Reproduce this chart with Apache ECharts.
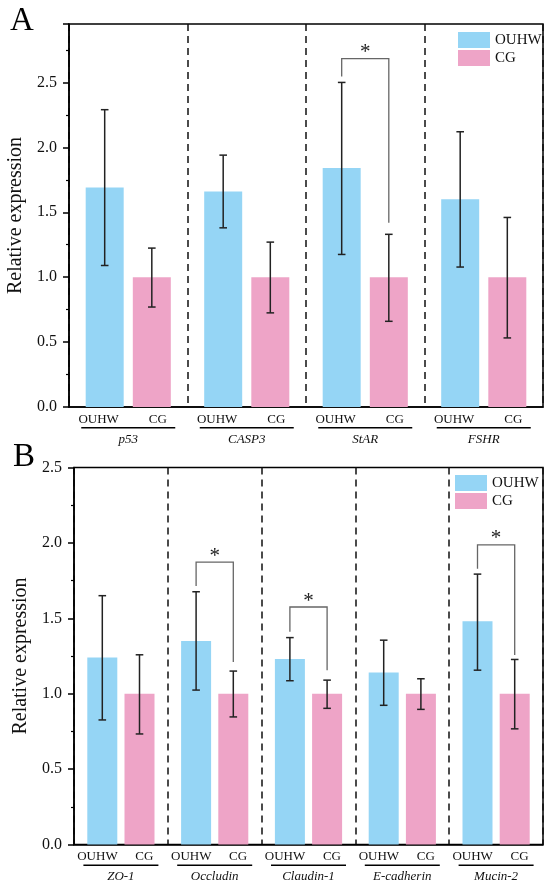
<!DOCTYPE html>
<html>
<head>
<meta charset="utf-8">
<title>Relative expression</title>
<script src="https://cdn.jsdelivr.net/npm/echarts@6/dist/echarts.min.js"></script>
<style>
  html, body { margin: 0; padding: 0; background: #fff; }
  #main { width: 550px; height: 891px; }
</style>
</head>
<body>
<div id="main"></div>
<script>
// panel A
var genesA = ['p53', 'CASP3', 'StAR', 'FSHR'];
var ouhwA = [1.69, 1.66, 1.84, 1.60];
var cgA = [1.0, 1.0, 1.0, 1.0];
var ouhwErrA = [[1.09, 2.29], [1.38, 1.94], [1.175, 2.50], [1.078, 2.12]];
var cgErrA = [[0.77, 1.224], [0.725, 1.27], [0.66, 1.33], [0.532, 1.46]];
// [gene index, left leg bottom, right leg bottom, top]
var sigA = [[2, 2.546, 1.42, 2.683]];

// panel B
var genesB = ['ZO-1', 'Occludin', 'Claudin-1', 'E-cadherin', 'Mucin-2'];
var ouhwB = [1.24, 1.35, 1.23, 1.14, 1.48];
var cgB = [1.0, 1.0, 1.0, 1.0, 1.0];
var ouhwErrB = [[0.826, 1.65], [1.024, 1.676], [1.086, 1.372], [0.923, 1.355], [1.156, 1.793]];
var cgErrB = [[0.733, 1.258], [0.846, 1.15], [0.903, 1.09], [0.896, 1.099], [0.767, 1.227]];
var sigB = [[1, 1.714, 1.211, 1.872], [2, 1.41, 1.156, 1.575], [4, 1.828, 1.256, 1.987]];

var groups = ['OUHW', 'CG'];
var yTicksA = { min: 0, max: 2.95, interval: 0.5 };
var yTicksB = { min: 0, max: 2.5, interval: 0.5 };

var FONT = "'Times New Roman', 'Liberation Serif', serif";
var BLUE = '#95d5f5';
var PINK = '#eea4c7';
var CAP = 3.8;

var chart = echarts.init(document.getElementById('main'), null, { renderer: 'canvas' });

// error bars drawn through the axis scales
function errRender(off) {
  return function (params, api) {
    var c = api.value(0);
    var lo = api.coord([c, api.value(1)]);
    var hi = api.coord([c, api.value(2)]);
    var x = lo[0] + off;
    var st = { stroke: '#222', lineWidth: 1.5 };
    return {
      type: 'group',
      children: [
        { type: 'line', shape: { x1: x, y1: lo[1], x2: x, y2: hi[1] }, style: st },
        { type: 'line', shape: { x1: x - CAP, y1: hi[1], x2: x + CAP, y2: hi[1] }, style: st },
        { type: 'line', shape: { x1: x - CAP, y1: lo[1], x2: x + CAP, y2: lo[1] }, style: st }
      ]
    };
  };
}

// significance brackets
function sigRender(off) {
  return function (params, api) {
    var c = api.value(0);
    var pl = api.coord([c, api.value(1)]);
    var pr = api.coord([c, api.value(2)]);
    var pt = api.coord([c, api.value(3)]);
    var xl = pl[0] - off, xr = pl[0] + off;
    return {
      type: 'group',
      children: [
        {
          type: 'polyline',
          shape: { points: [[xl, pl[1]], [xl, pt[1]], [xr, pt[1]], [xr, pr[1]]] },
          style: { stroke: '#666', lineWidth: 1.3, fill: null }
        },
        {
          type: 'text',
          style: {
            text: '*', x: pl[0], y: pt[1] - 6, fontSize: 21, fontFamily: FONT,
            fill: '#222', align: 'center', verticalAlign: 'middle'
          }
        }
      ]
    };
  };
}

function withIndex(arr) {
  return arr.map(function (d, i) { return [i, d[0], d[1]]; });
}

function subLabels(n) {
  var out = [];
  for (var i = 0; i < n; i++) out = out.concat(groups);
  return out;
}

function geneAxis(grid, genes, lineW) {
  return {
    type: 'category',
    gridIndex: grid,
    position: 'bottom',
    data: genes,
    axisLine: { show: true, lineStyle: { color: '#000', width: 1.5 } },
    axisTick: { show: false },
    splitLine: { show: true, lineStyle: { color: '#111', width: 1.5, type: [7, 5] } },
    axisLabel: {
      interval: 0,
      margin: 20,
      formatter: function (v) { return '{u| }\n{n|' + v + '}'; },
      rich: {
        u: { width: lineW, height: 1.5, lineHeight: 1.5, backgroundColor: '#000', fontSize: 1 },
        n: { fontFamily: FONT, fontStyle: 'italic', fontSize: 13, color: '#111', lineHeight: 22 }
      }
    }
  };
}

function subAxis(grid, n) {
  return {
    type: 'category',
    gridIndex: grid,
    position: 'bottom',
    data: subLabels(n),
    axisLine: { show: false },
    axisTick: { show: false },
    splitLine: { show: false },
    axisLabel: { interval: 0, margin: 6, fontFamily: FONT, fontSize: 13, color: '#111' }
  };
}

function valueAxis(grid, t, showMax) {
  return {
    type: 'value',
    gridIndex: grid,
    min: t.min,
    max: t.max,
    interval: t.interval,
    name: 'Relative expression',
    nameLocation: 'middle',
    nameGap: 39,
    nameTextStyle: { fontFamily: FONT, fontSize: 20, color: '#111' },
    axisLine: { show: true, lineStyle: { color: '#000', width: 1.5 } },
    axisTick: { show: true, inside: false, length: 6, lineStyle: { color: '#000', width: 1.5 } },
    minorTick: { show: true, splitNumber: 2, length: 3, lineStyle: { color: '#000', width: 1.2 } },
    splitLine: { show: false },
    axisLabel: {
      margin: 12,
      showMaxLabel: showMax,
      fontFamily: FONT,
      fontSize: 16,
      color: '#111',
      formatter: function (v) { return v.toFixed(1); }
    }
  };
}

function barSeries(name, xi, yi, data, color, w) {
  return {
    type: 'bar',
    name: name,
    xAxisIndex: xi,
    yAxisIndex: yi,
    data: data,
    barWidth: w,
    barGap: '24%',
    itemStyle: { color: color },
    z: 2
  };
}

function errSeries(xi, yi, data, off) {
  return {
    type: 'custom',
    name: 'err',
    xAxisIndex: xi,
    yAxisIndex: yi,
    data: data,
    encode: { x: 0, y: [1, 2] },
    renderItem: errRender(off),
    z: 4,
    silent: true
  };
}

function sigSeries(xi, yi, data, off) {
  return {
    type: 'custom',
    name: 'sig',
    xAxisIndex: xi,
    yAxisIndex: yi,
    data: data,
    encode: { x: 0, y: [1, 2, 3] },
    renderItem: sigRender(off),
    z: 5,
    silent: true
  };
}

var barWA = 38, barWB = 30;
var offA = barWA * 1.24 / 2, offB = barWB * 1.24 / 2;

var option = {
  backgroundColor: '#fff',
  animation: false,
  textStyle: { fontFamily: FONT },
  grid: [
    { left: 69, right: 7, top: 24, height: 383, show: true, borderColor: '#000', borderWidth: 1.5,
      backgroundColor: 'transparent', containLabel: false, outerBoundsMode: 'none' },
    { left: 74, right: 7, top: 467.5, height: 377, show: true, borderColor: '#000', borderWidth: 1.5,
      backgroundColor: 'transparent', containLabel: false, outerBoundsMode: 'none' }
  ],
  legend: [
    { data: groups, orient: 'vertical', left: 458, top: 32, itemWidth: 32, itemHeight: 16, itemGap: 2,
      padding: 0, icon: 'rect', textStyle: { fontFamily: FONT, fontSize: 15, color: '#111' } },
    { data: groups, orient: 'vertical', left: 455, top: 475, itemWidth: 32, itemHeight: 16, itemGap: 2,
      padding: 0, icon: 'rect', textStyle: { fontFamily: FONT, fontSize: 15, color: '#111' } }
  ],
  xAxis: [
    geneAxis(0, genesA, 94),
    subAxis(0, genesA.length),
    geneAxis(1, genesB, 75),
    subAxis(1, genesB.length)
  ],
  yAxis: [
    valueAxis(0, yTicksA, false),
    valueAxis(1, yTicksB, true)
  ],
  graphic: [
    { type: 'text', left: 10, top: 5, style: { text: 'A', fontFamily: FONT, fontSize: 33, fill: '#000' } },
    { type: 'text', left: 13, top: 441, style: { text: 'B', fontFamily: FONT, fontSize: 33, fill: '#000' } }
  ],
  series: [
    barSeries('OUHW', 0, 0, ouhwA, BLUE, barWA),
    barSeries('CG', 0, 0, cgA, PINK, barWA),
    errSeries(0, 0, withIndex(ouhwErrA), -offA),
    errSeries(0, 0, withIndex(cgErrA), offA),
    sigSeries(0, 0, sigA, offA),
    barSeries('OUHW', 2, 1, ouhwB, BLUE, barWB),
    barSeries('CG', 2, 1, cgB, PINK, barWB),
    errSeries(2, 1, withIndex(ouhwErrB), -offB),
    errSeries(2, 1, withIndex(cgErrB), offB),
    sigSeries(2, 1, sigB, offB)
  ]
};

chart.setOption(option);
</script>
</body>
</html>
